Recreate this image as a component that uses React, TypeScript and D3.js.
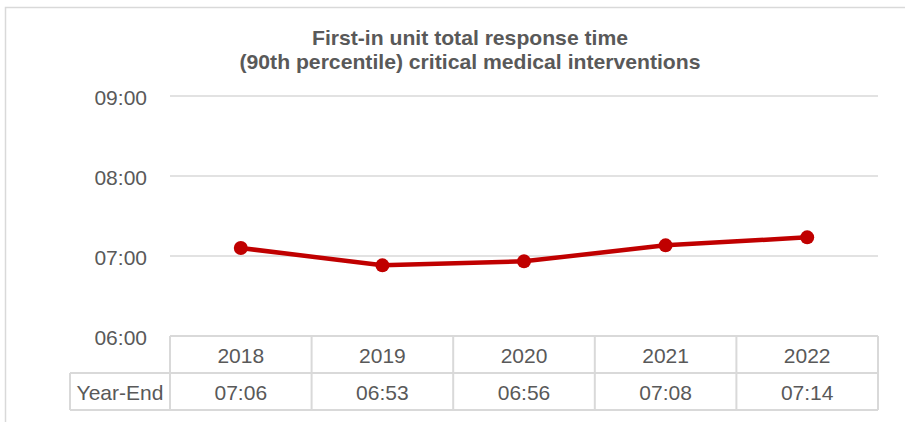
import React from "react";
import * as d3 from "d3";

const years = ["2018", "2019", "2020", "2021", "2022"];
const valueLabels = ["07:06", "06:53", "06:56", "07:08", "07:14"];
const minutes = [426, 413, 416, 428, 434];
const yTicks = [360, 420, 480, 540];
const rowLabel = "Year-End";
const titleLines = ["First-in unit total response time", "(90th percentile) critical medical interventions"];
const titleWidths = [316, 461];

const fmt = (m: number) => {
  const h = Math.floor(m / 60);
  const mm = m % 60;
  return `${String(h).padStart(2, "0")}:${String(mm).padStart(2, "0")}`;
};

export default function App() {
  const W = 905, H = 422;
  const left = 170, right = 878;
  const top = 96, bottom = 336;
  const x = d3.scaleBand().domain(years).range([left, right]);
  const y = d3.scaleLinear().domain([360, 540]).range([bottom, top]);
  const cx = (i: number) => x(years[i])! + x.bandwidth() / 2;
  const line = d3.line<number>().x((_, i) => cx(i)).y((d) => y(d));
  const rowH = 37;
  const labelLeft = 70;
  const gray = "#d9d9d9";
  const textColor = "#595959";
  const font = "'Liberation Sans', Arial, sans-serif";
  return (
    <svg width={W} height={H} style={{ position: "absolute", left: 0, top: 0 }} fontFamily={font}>
      <rect x={0} y={0} width={W} height={H} fill="#fff" />
      <path d={`M5.5,${H} V7.5 H${W}`} fill="none" stroke={gray} strokeWidth={1.5} />
      {titleLines.map((t, i) => (
        <text key={i} x={470} y={45 + i * 24} textAnchor="middle" fontSize={21} fontWeight="bold" fill={textColor}
          textLength={titleWidths[i]} lengthAdjust="spacingAndGlyphs">{t}</text>
      ))}
      {yTicks.map((t) => (
        <g key={t}>
          {t !== 360 && <line x1={left} x2={right} y1={y(t)} y2={y(t)} stroke={gray} strokeWidth={1.5} />}
          <text x={147} y={y(t) + 8.5} textAnchor="end" fontSize={21} fill={textColor}>{fmt(t)}</text>
        </g>
      ))}
      <g stroke={gray} strokeWidth={2} fill="none">
        <line x1={left} x2={right} y1={bottom} y2={bottom} />
        <line x1={labelLeft} x2={right} y1={bottom + rowH} y2={bottom + rowH} />
        <line x1={labelLeft} x2={right} y1={bottom + 2 * rowH} y2={bottom + 2 * rowH} />
        <line x1={labelLeft} x2={labelLeft} y1={bottom + rowH} y2={bottom + 2 * rowH} />
        {years.map((yr) => (
          <line key={yr} x1={x(yr)!} x2={x(yr)!} y1={bottom} y2={bottom + 2 * rowH} />
        ))}
        <line x1={right} x2={right} y1={bottom} y2={bottom + 2 * rowH} />
      </g>
      {years.map((yr, i) => (
        <g key={yr} fontSize={21} fill={textColor} textAnchor="middle">
          <text x={cx(i)} y={bottom + 27}>{yr}</text>
          <text x={cx(i)} y={bottom + rowH + 27}>{valueLabels[i]}</text>
        </g>
      ))}
      <text x={(labelLeft + left) / 2} y={bottom + rowH + 27} textAnchor="middle" fontSize={21} fill={textColor}>{rowLabel}</text>
      <path d={line(minutes)!} fill="none" stroke="#C00000" strokeWidth={4.5} strokeLinejoin="round" />
      {minutes.map((m, i) => (
        <circle key={i} cx={cx(i)} cy={y(m)} r={7} fill="#C00000" />
      ))}
    </svg>
  );
}
